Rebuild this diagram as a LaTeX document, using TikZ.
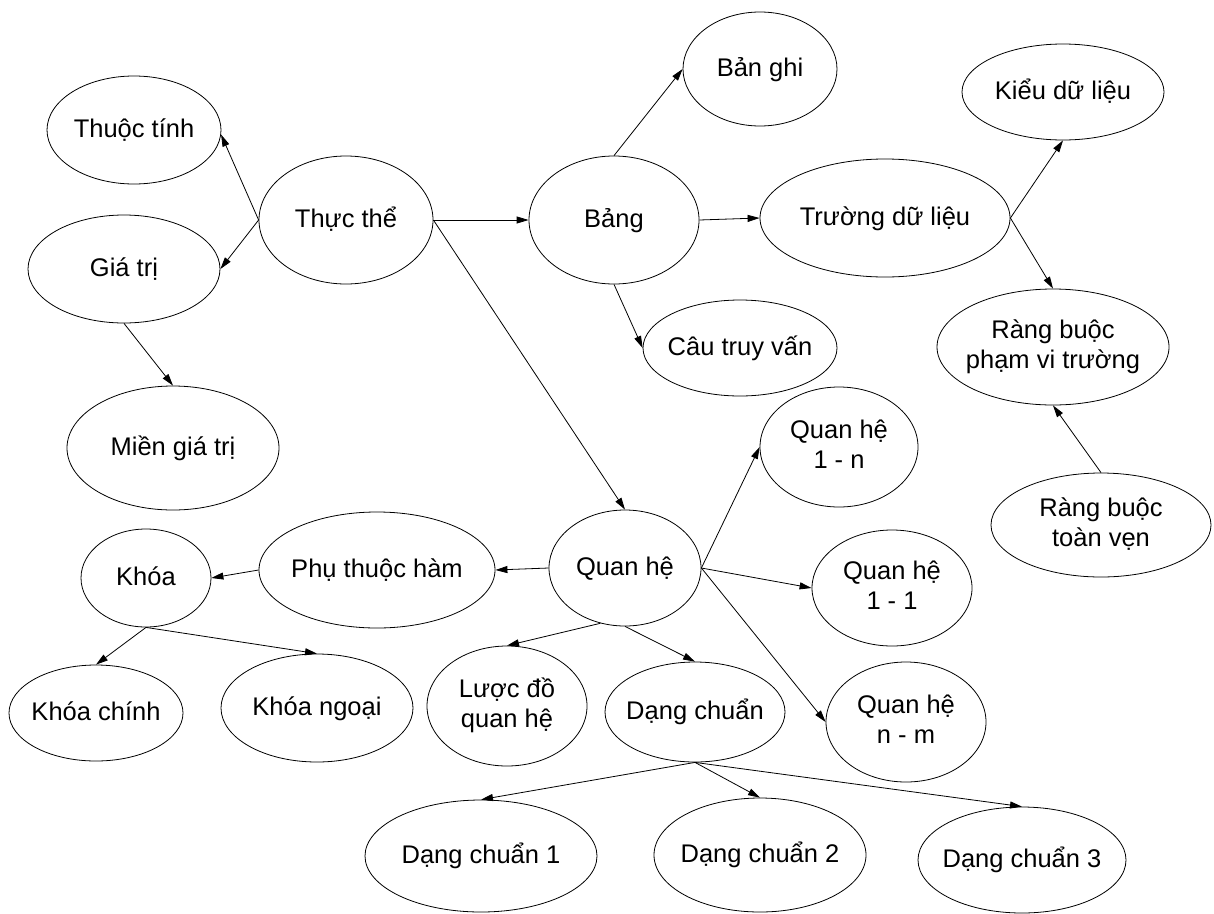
\documentclass[tikz,border=0pt]{standalone}
\usepackage{fontspec}
\setmainfont{Liberation Sans}
\usetikzlibrary{shapes.geometric,arrows.meta}

% centred label of zero width, so the ellipse size is set only by its minimum sizes
\newcommand\lblone[1]{\makebox[0pt][c]{\rule[-8pt]{0pt}{30pt}\smash{#1}}}
\newcommand\lbltwo[2]{\makebox[0pt][c]{\begin{tabular}{@{}c@{}}\smash{#1}\\\smash{#2}\end{tabular}}}

\tikzset{
  oval/.style 2 args={ellipse, draw=black, line width=0.8pt, fill=white,
    minimum width=#1, minimum height=#2, inner sep=0pt,
    font=\fontsize{25.5}{30}\selectfont},
  link/.style={draw=black, line width=0.8pt, -{Triangle[length=12pt,width=7pt]}}
}

\begin{document}
\begin{tikzpicture}[x=1pt,y=-1pt]
  \fill[white] (0,0) rectangle (1214,913);
  \useasboundingbox (0,0) rectangle (1214,913);

  % concepts
  \node[oval={174pt}{108pt}] (thuoctinh)  at (134,130) {\lblone{Thuộc tính}};
  \node[oval={174pt}{128pt}] (thucthe)    at (346,220) {\lblone{Thực thể}};
  \node[oval={192pt}{108pt}] (giatri)     at (124,269) {\lblone{Giá trị}};
  \node[oval={212pt}{124pt}] (mien)       at (173,448) {\lblone{Miền giá trị}};
  \node[oval={154pt}{114pt}] (banghi)     at (760,69)  {\lblone{Bản ghi}};
  \node[oval={170pt}{128pt}] (bang)       at (614,220) {\lblone{Bảng}};
  \node[oval={250pt}{118pt}] (truong)     at (885,218) {\lblone{Trường dữ liệu}};
  \node[oval={202pt}{96pt}]  (kieu)       at (1063,92) {\lblone{Kiểu dữ liệu}};
  \node[oval={194pt}{96pt}]  (cautruyvan) at (740,348) {\lblone{Câu truy vấn}};
  \node[oval={232pt}{116pt}] (rbpv)       at (1053,347) {\lbltwo{Ràng buộc}{phạm vi trường}};
  \node[oval={220pt}{104pt}] (rbtv)       at (1101,525) {\lbltwo{Ràng buộc}{toàn vẹn}};
  \node[oval={158pt}{120pt}] (qh1n)       at (839,447) {\lbltwo{Quan hệ}{1 - n}};
  \node[oval={152pt}{116pt}] (quanhe)     at (625,568) {\lblone{Quan hệ}};
  \node[oval={236pt}{116pt}] (phuthuoc)   at (377,570) {\lblone{Phụ thuộc hàm}};
  \node[oval={130pt}{98pt}]  (khoa)       at (146,578) {\lblone{Khóa}};
  \node[oval={160pt}{116pt}] (qh11)       at (892,588) {\lbltwo{Quan hệ}{1 - 1}};
  \node[oval={174pt}{96pt}]  (khoachinh)  at (96,713)  {\lblone{Khóa chính}};
  \node[oval={192pt}{108pt}] (khoangoai)  at (317,708) {\lblone{Khóa ngoại}};
  \node[oval={160pt}{120pt}] (luocdo)     at (507,706) {\lbltwo{Lược đồ}{quan hệ}};
  \node[oval={180pt}{100pt}] (dangchuan)  at (695,712) {\lblone{Dạng chuẩn}};
  \node[oval={160pt}{120pt}] (qhnm)       at (906,722) {\lbltwo{Quan hệ}{n - m}};
  \node[oval={232pt}{112pt}] (dc1)        at (481,856) {\lblone{Dạng chuẩn 1}};
  \node[oval={212pt}{114pt}] (dc2)        at (760,855) {\lblone{Dạng chuẩn 2}};
  \node[oval={208pt}{106pt}] (dc3)        at (1022,860) {\lblone{Dạng chuẩn 3}};

  % relations between concepts
  \draw[link] (thucthe.180) -- (thuoctinh.-3);
  \draw[link] (thucthe.180) -- (giatri.0);
  \draw[link] (giatri.-90) -- (mien.90);
  \draw[link] (thucthe.0) -- (bang.180);
  \draw[link] (thucthe.0) -- (quanhe.90);
  \draw[link] (bang.90) -- (banghi.180);
  \draw[link] (bang.0) -- (truong.180);
  \draw[link] (bang.-90) -- (cautruyvan.180);
  \draw[link] (truong.0) -- (kieu.-90);
  \draw[link] (truong.0) -- (rbpv.90);
  \draw[link] (rbtv.90) -- (rbpv.-90);
  \draw[link] (quanhe.0) -- (qh1n.180);
  \draw[link] (quanhe.0) -- (qh11.180);
  \draw[link] (quanhe.0) -- (qhnm.180);
  \draw[link] (quanhe.180) -- (phuthuoc.0);
  \draw[link] (phuthuoc.180) -- (khoa.0);
  \draw[link] (khoa.-90) -- (khoachinh.90);
  \draw[link] (khoa.-90) -- (khoangoai.90);
  \draw[link] (quanhe.-114) -- (luocdo.90);
  \draw[link] (quanhe.-90) -- (dangchuan.90);
  \draw[link] (dangchuan.-90) -- (dc1.90);
  \draw[link] (dangchuan.-90) -- (dc2.90);
  \draw[link] (dangchuan.-90) -- (dc3.90);
\end{tikzpicture}
\end{document}
